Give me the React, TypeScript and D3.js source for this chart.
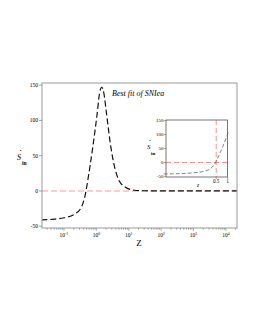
import React, { useEffect, useRef } from 'react';
import * as d3 from 'd3';

// redshift samples and S_in values
const zValues = [0.02, 0.05, 0.1, 0.21, 0.34, 0.48, 0.54, 0.77, 1.05, 1.25, 1.46, 1.7, 2.08, 2.83, 5.1, 8.2, 15, 30, 100, 1000, 22000];
const sValues = [-41, -40, -38, -33, -23.6, 0, 14, 61, 108, 138, 147, 139, 108, 61, 14, 5, 1, 0.3, 0, 0, 0];

const yTicks = [-50, 0, 50, 100, 150];
const xTickExps = [-1, 0, 1, 2, 3, 4];
const insetYTicks = [-50, 0, 50, 100, 150];
const insetXTicks = [0.5, 1];
const insetXTickLabels = ['0.5', '1'];

const App: React.FC = () => {
  const svgRef = useRef<SVGSVGElement | null>(null);

  useEffect(() => {
    if (!svgRef.current) return;
    const svg = d3.select(svgRef.current);
    svg.selectAll('*').remove();

    const font = '"Liberation Serif", "DejaVu Serif", serif';
    const data = zValues.map((z, i) => ({ z, s: sValues[i] }));

    // main plot
    const box = { left: 42, right: 237, top: 83, bottom: 228 };
    const x = d3.scaleLog().domain([0.021, 22000]).range([box.left, box.right]);
    const y = d3.scaleLinear().domain([-52.5, 153]).range([box.bottom, box.top]);

    svg.append('defs')
      .append('clipPath').attr('id', 'mainClip')
      .append('rect').attr('x', box.left).attr('y', box.top)
      .attr('width', box.right - box.left).attr('height', box.bottom - box.top);

    // zero line
    svg.append('line')
      .attr('x1', box.left).attr('x2', box.right)
      .attr('y1', y(0)).attr('y2', y(0))
      .attr('stroke', '#ff9a9a').attr('stroke-width', 1.1)
      .attr('stroke-dasharray', '6,3');

    const line = d3.line<{ z: number; s: number }>()
      .x(d => x(d.z))
      .y(d => y(d.s))
      .curve(d3.curveMonotoneX);

    svg.append('path')
      .datum(data)
      .attr('clip-path', 'url(#mainClip)')
      .attr('d', line)
      .attr('fill', 'none')
      .attr('stroke', '#111')
      .attr('stroke-width', 1.2)
      .attr('stroke-dasharray', '6,3');

    // frame
    svg.append('rect')
      .attr('x', box.left).attr('y', box.top)
      .attr('width', box.right - box.left).attr('height', box.bottom - box.top)
      .attr('fill', 'none').attr('stroke', '#999').attr('stroke-width', 1);

    // y ticks
    yTicks.forEach(t => {
      svg.append('line')
        .attr('x1', box.left - 3).attr('x2', box.left)
        .attr('y1', y(t)).attr('y2', y(t))
        .attr('stroke', '#666').attr('stroke-width', 0.6);
      svg.append('text')
        .attr('x', box.left - 4).attr('y', y(t) + 1.9)
        .attr('text-anchor', 'end').attr('fill', '#000')
        .attr('font-family', font).attr('font-size', 5.5)
        .text(t);
    });

    // x ticks (log, with minors)
    for (let e = -2; e <= 4; e++) {
      for (let m = 1; m < 10; m++) {
        const v = m * Math.pow(10, e);
        if (v < x.domain()[0] || v > x.domain()[1]) continue;
        svg.append('line')
          .attr('x1', x(v)).attr('x2', x(v))
          .attr('y1', box.bottom).attr('y2', box.bottom + (m === 1 ? 3 : 1.8))
          .attr('stroke', '#666').attr('stroke-width', 0.5);
      }
    }
    xTickExps.forEach(e => {
      const t = svg.append('text')
        .attr('x', x(Math.pow(10, e))).attr('y', box.bottom + 8.5)
        .attr('text-anchor', 'middle').attr('fill', '#000')
        .attr('font-family', font).attr('font-size', 5.5);
      t.append('tspan').text('10');
      t.append('tspan').attr('dy', -2).attr('font-size', 3.8).text(String(e));
    });

    svg.append('text')
      .attr('x', 139).attr('y', 246)
      .attr('text-anchor', 'middle').attr('fill', '#000')
      .attr('font-family', font).attr('font-size', 9)
      .text('Z');

    // y label S_in with dot
    const yl = svg.append('g').attr('font-family', font).attr('fill', '#000');
    yl.append('text').attr('x', 17).attr('y', 160).attr('font-size', 8).attr('font-style', 'italic').text('S');
    yl.append('text').attr('x', 19.5).attr('y', 153).attr('font-size', 7).attr('font-weight', 'bold').text('·');
    yl.append('text').attr('x', 22).attr('y', 165).attr('font-size', 5.5).attr('font-weight', 'bold').text('in');

    // title
    svg.append('text')
      .attr('x', 112).attr('y', 96).attr('fill', '#000')
      .attr('font-family', font).attr('font-size', 8).attr('font-style', 'italic')
      .text('Best fit of SNIea');

    // inset
    const ib = { left: 166, right: 227.5, top: 120, bottom: 177 };
    const ix = d3.scaleLog().domain([0.023, 1]).range([ib.left, ib.right]);
    const iy = d3.scaleLinear().domain([-52, 152]).range([ib.bottom, ib.top]);

    svg.append('rect')
      .attr('x', ib.left).attr('y', ib.top)
      .attr('width', ib.right - ib.left).attr('height', ib.bottom - ib.top)
      .attr('fill', '#fff').attr('stroke', 'none');

    svg.append('line')
      .attr('x1', ib.left).attr('x2', ib.right)
      .attr('y1', iy(0)).attr('y2', iy(0))
      .attr('stroke', '#ff8c8c').attr('stroke-width', 1)
      .attr('stroke-dasharray', '5,3');
    svg.append('line')
      .attr('x1', ix(0.5)).attr('x2', ix(0.5))
      .attr('y1', ib.top).attr('y2', ib.bottom)
      .attr('stroke', '#ff8c8c').attr('stroke-width', 1)
      .attr('stroke-dasharray', '5,3');

    const insetLine = d3.line<{ z: number; s: number }>()
      .x(d => ix(d.z))
      .y(d => iy(d.s))
      .curve(d3.curveMonotoneX);
    svg.append('path')
      .datum(data.filter(d => d.z <= 1.05))
      .attr('d', insetLine)
      .attr('fill', 'none')
      .attr('stroke', '#333')
      .attr('stroke-width', 0.6)
      .attr('stroke-dasharray', '4,2');

    svg.append('rect')
      .attr('x', ib.left).attr('y', ib.top)
      .attr('width', ib.right - ib.left).attr('height', ib.bottom - ib.top)
      .attr('fill', 'none').attr('stroke', '#555').attr('stroke-width', 0.8);

    insetYTicks.forEach(t => {
      svg.append('line')
        .attr('x1', ib.left - 2).attr('x2', ib.left)
        .attr('y1', iy(t)).attr('y2', iy(t))
        .attr('stroke', '#555').attr('stroke-width', 0.5);
      svg.append('text')
        .attr('x', ib.left - 2.5).attr('y', iy(t) + 1.8)
        .attr('text-anchor', 'end').attr('fill', '#000')
        .attr('font-family', font).attr('font-size', 5)
        .text(t);
    });
    insetXTicks.forEach((t, i) => {
      svg.append('line')
        .attr('x1', ix(t)).attr('x2', ix(t))
        .attr('y1', ib.bottom).attr('y2', ib.bottom + 2)
        .attr('stroke', '#555').attr('stroke-width', 0.5);
      svg.append('text')
        .attr('x', ix(t)).attr('y', ib.bottom + 6)
        .attr('text-anchor', 'middle').attr('fill', '#000')
        .attr('font-family', font).attr('font-size', 5.2)
        .text(insetXTickLabels[i]);
    });
    svg.append('text')
      .attr('x', 198).attr('y', 187)
      .attr('text-anchor', 'middle').attr('fill', '#000')
      .attr('font-family', font).attr('font-size', 5.5).attr('font-style', 'italic')
      .text('z');

    const il = svg.append('g').attr('font-family', font).attr('fill', '#000');
    il.append('text').attr('x', 147).attr('y', 149).attr('font-size', 7).attr('font-style', 'italic').text('S');
    il.append('text').attr('x', 149).attr('y', 143).attr('font-size', 6).attr('font-weight', 'bold').text('·');
    il.append('text').attr('x', 151).attr('y', 155).attr('font-size', 5).attr('font-weight', 'bold').text('in');
  }, []);

  return (
    <svg ref={svgRef} width={255} height={330}
      style={{ position: 'absolute', left: 0, top: 0, background: '#fff' }} />
  );
};

export default App;
